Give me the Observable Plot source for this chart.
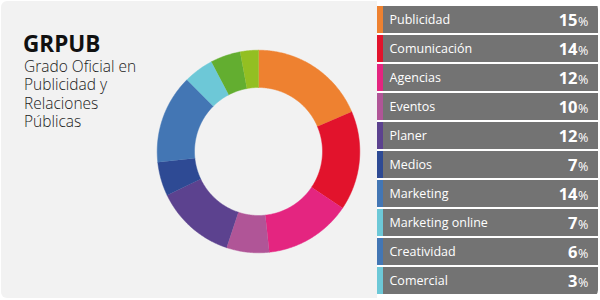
<!DOCTYPE html>
<html>
<head>
<meta charset="utf-8">
<script src="https://cdn.jsdelivr.net/npm/d3@7"></script>
<script src="https://cdn.jsdelivr.net/npm/@observablehq/plot@0.6"></script>
<style>
  html, body { margin: 0; padding: 0; background: #ffffff; }
  #wrap { position: relative; width: 600px; height: 300px; font-family: "Open Sans", sans-serif; overflow: hidden; }
  #panel { position: absolute; left: 1px; top: 1px; width: 376px; height: 297px; background: #f2f2f2; border-radius: 6px 0 0 6px; }
  #title { position: absolute; left: 23px; top: 31px; font-size: 22.5px; font-weight: 700; line-height: 26px; color: #111; }
  #subtitle { position: absolute; left: 24px; top: 57px; font-size: 15.5px; font-weight: 300; color: #1a1a1a; }
  #subtitle div { height: 18.3px; line-height: 18.3px; white-space: nowrap; }
  #donut { position: absolute; left: 148px; top: 41px; }
  #legend { position: absolute; left: 377px; top: 1px; width: 221px; height: 297px; overflow: hidden; border-radius: 0 8px 8px 0; background: #ffffff; }
</style>
</head>
<body>
<div id="wrap">
  <div id="panel"></div>
  <div id="title">GRPUB</div>
  <div id="subtitle"><div>Grado Oficial en</div><div>Publicidad y</div><div>Relaciones</div><div>Públicas</div></div>
  <div id="donut"></div>
  <div id="legend"></div>
</div>
<script>
// ---- data ----
const categories = ["Publicidad", "Comunicación", "Agencias", "Eventos", "Planer", "Medios", "Marketing", "Marketing online", "Creatividad", "Comercial"];
const percentLabels = [15, 14, 12, 10, 12, 7, 14, 7, 6, 3];
const sliceShares = [18.6, 15.8, 13.9, 6.8, 12.8, 5.4, 14.2, 4.8, 4.8, 2.9];
const sliceColors = ["#ee8130", "#e2132c", "#e42580", "#b05597", "#5c428f", "#2e4a94", "#4376b4", "#6dc8d7", "#63ae30", "#93bf22"];
const stripColors = ["#ee8130", "#e2132c", "#e42580", "#b05597", "#5c428f", "#2e4a94", "#4376b4", "#6dc8d7", "#4376b4", "#6dc8d7"];

// ---- donut ----
const outerR = 101.3, innerR = 64;
const arcs = d3.pie().sort(null).value(d => d.share)(categories.map((cat, i) => ({cat, share: sliceShares[i]})));
const ringPoints = [];
for (const a of arcs) {
  const n = Math.max(2, Math.ceil((a.endAngle - a.startAngle) / 0.01));
  const angles = d3.range(n + 1).map(k => a.startAngle + (a.endAngle - a.startAngle) * k / n);
  for (const t of angles) ringPoints.push({cat: a.data.cat, x: outerR * Math.sin(t), y: outerR * Math.cos(t)});
  for (const t of angles.slice().reverse()) ringPoints.push({cat: a.data.cat, x: innerR * Math.sin(t), y: innerR * Math.cos(t)});
}

const donut = Plot.plot({
  width: 220,
  height: 220,
  margin: 0,
  style: {background: "transparent"},
  x: {domain: [-110, 110], axis: null},
  y: {domain: [-110, 110], axis: null},
  color: {domain: categories, range: sliceColors},
  marks: [
    Plot.line(ringPoints, {x: "x", y: "y", z: "cat", fill: "cat", stroke: "cat", strokeWidth: 0.5, curve: "linear"})
  ]
});
document.getElementById("donut").appendChild(donut);

// ---- legend ----
const rows = categories.map((cat, i) => ({cat, pct: percentLabels[i]}));
const legend = Plot.plot({
  width: 221,
  height: 297,
  margin: 0,
  style: {background: "#ffffff", fontFamily: "Open Sans, sans-serif"},
  x: {domain: [0, 221], axis: null},
  y: {type: "band", domain: categories, range: [0, 297], paddingInner: 0.075, paddingOuter: 0, axis: null},
  color: {domain: categories, range: stripColors},
  marks: [
    Plot.barX(rows, {x1: 0, x2: 6, y: "cat", fill: "cat"}),
    Plot.barX(rows, {x1: 6, x2: 221, y: "cat", fill: "#737373"}),
    Plot.text(rows, {x: 12, y: "cat", text: "cat", textAnchor: "start", fill: "white", fontSize: 12.5, dy: -0.5}),
    Plot.text(rows, {x: 200, y: "cat", text: d => String(d.pct), textAnchor: "end", fill: "white", fontSize: 16.5, fontWeight: "bold", dy: 0.5}),
    Plot.text(rows, {x: 200.5, y: "cat", text: () => "%", textAnchor: "start", fill: "white", fontSize: 12.5, dy: 1.5})
  ]
});
document.getElementById("legend").appendChild(legend);
</script>
</body>
</html>
